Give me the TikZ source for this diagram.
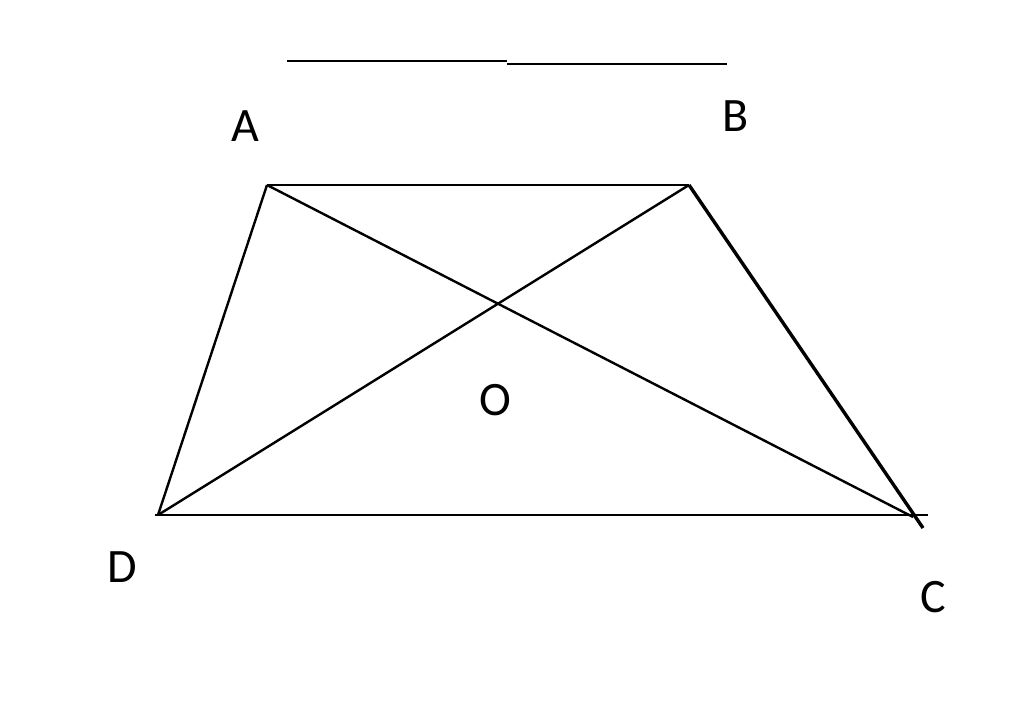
\documentclass[tikz,border=0pt]{standalone}
\usepackage{fontspec}
\setmainfont{Carlito}
\begin{document}
\begin{tikzpicture}[x=1pt,y=-1pt,
  edge/.style={line width=2.4pt,black},
  lbl/.style={font=\fontsize{48}{56}\selectfont,inner sep=0pt}]
\useasboundingbox (0,0) rectangle (1024,718);
\fill[white] (0,0) rectangle (1024,718);
\coordinate (A) at (267,185);
\coordinate (B) at (689,185);
\coordinate (D) at (158,515);
\coordinate (C) at (913,517);
\coordinate (Cb) at (923,528);
\coordinate (De) at (155,515);
\coordinate (Ce) at (928,515);
\coordinate (T1) at (287,61);
\coordinate (T2) at (507,61);
\coordinate (T3) at (507,64);
\coordinate (T4) at (727,64);
\draw[edge] (T1) -- (T2);
\draw[edge] (T3) -- (T4);
\draw[edge] (A) -- (B);
\draw[edge] (A) -- (D);
\draw[edge] (De) -- (Ce);
\draw[edge] (A) -- (C);
\draw[edge] (B) -- (D);
\draw[line width=3.4pt] (B) -- (Cb);
\node[lbl] (LA) at (245,126) {A};
\node[lbl] (LB) at (736,116) {B};
\node[lbl] (LO) at (495,400) {O};
\node[lbl] (LD) at (122,567) {D};
\node[lbl] (LC) at (933,597) {C};
\end{tikzpicture}
\end{document}
